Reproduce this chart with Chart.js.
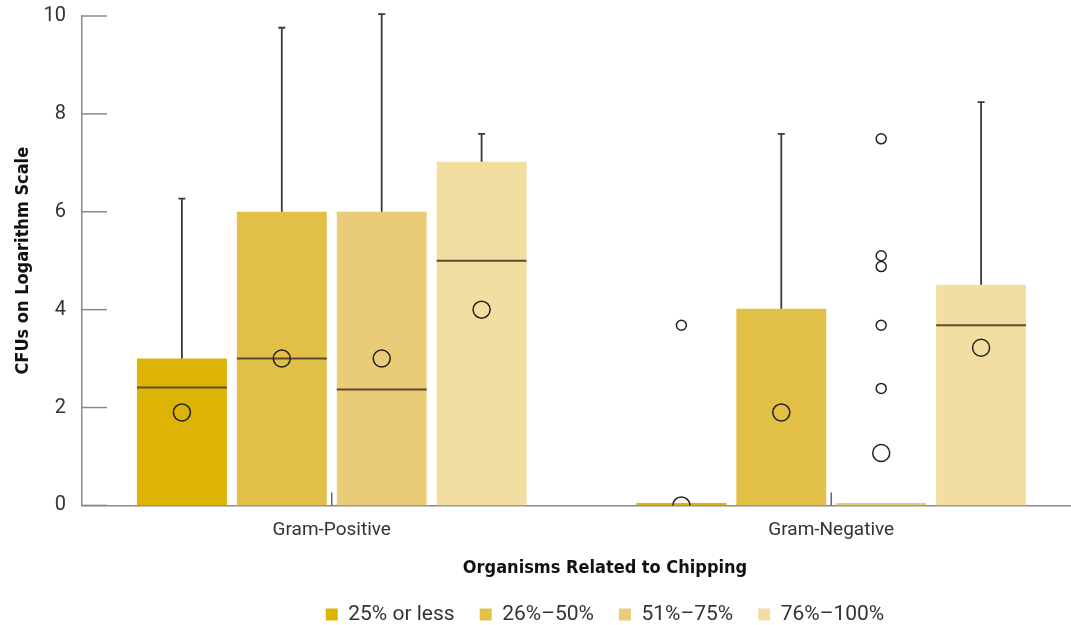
<!DOCTYPE html>
<html>
<head>
<meta charset="utf-8">
<script src="https://cdn.jsdelivr.net/npm/chart.js@4.4.1/dist/chart.umd.min.js"></script>
<style>
  html, body { margin: 0; padding: 0; background: #fff; overflow: hidden; }
  #wrap { width: 1210px; height: 625px; }
</style>
</head>
<body>
<div id="wrap"><canvas id="boxChart" width="1210" height="625"></canvas></div>
<script>
// categories and series
var categories = ['Gram-Positive', 'Gram-Negative'];
var seriesLabels = ['25% or less', '26%–50%', '51%–75%', '76%–100%'];
var seriesColors = ['#DDB306', '#E2BF46', '#EACB77', '#F2DEA0'];
var yTicks = [0, 2, 4, 6, 8, 10];

// box values per series, one entry per category
var lowerQuartile = [[0, 0], [0, 0], [0, 0], [0, 0]];
var upperQuartile = [[3.0, 0.05], [6.0, 4.02], [6.0, 0.05], [7.02, 4.51]];
var medians = [[2.41, null], [3.0, null], [2.37, null], [5.0, 3.68]];
var means = [[1.9, 0], [3.0, 1.9], [3.0, 1.07], [4.0, 3.22]];
var maxima = [[6.27, null], [9.76, 7.59], [10.04, null], [7.59, 8.24]];
var outliers = [
  [[], [3.68]],
  [[], []],
  [[], [7.49, 5.1, 4.88, 3.68, 2.39]],
  [[], []]
];

var textColor = '#333';
var axisColor = '#8a8a8a';
var boldFont = "'Liberation Sans Narrow', 'DejaVu Sans Condensed', 'Roboto', sans-serif";

// medians, whiskers, means, outliers and inner ticks
var boxExtras = {
  id: 'boxExtras',
  afterDatasetsDraw: function(chart) {
    var ctx = chart.ctx;
    var y = chart.scales.y;
    var x = chart.scales.x;
    var area = chart.chartArea;
    ctx.save();

    // y ticks drawn inside the plot
    ctx.strokeStyle = axisColor;
    ctx.lineWidth = 1.5;
    yTicks.forEach(function(t) {
      var py = y.getPixelForValue(t);
      ctx.beginPath();
      ctx.moveTo(area.left, py);
      ctx.lineTo(area.left + 25, py);
      ctx.stroke();
    });
    // category ticks
    ctx.strokeStyle = '#666';
    categories.forEach(function(c, j) {
      var px = x.getPixelForValue(j);
      ctx.beginPath();
      ctx.moveTo(px, area.bottom);
      ctx.lineTo(px, area.bottom - 13);
      ctx.stroke();
    });

    seriesLabels.forEach(function(s, i) {
      var meta = chart.getDatasetMeta(i);
      meta.data.forEach(function(bar, j) {
        var half = bar.width / 2;
        // whisker
        if (maxima[i][j] !== null) {
          var top = y.getPixelForValue(maxima[i][j]);
          var from = y.getPixelForValue(upperQuartile[i][j]);
          ctx.strokeStyle = '#3a3a3a';
          ctx.lineWidth = 1.8;
          ctx.beginPath();
          ctx.moveTo(bar.x, from);
          ctx.lineTo(bar.x, top);
          ctx.moveTo(bar.x - 3.5, top);
          ctx.lineTo(bar.x + 3.5, top);
          ctx.stroke();
        }
        // median
        if (medians[i][j] !== null) {
          var my = y.getPixelForValue(medians[i][j]);
          ctx.strokeStyle = '#5a4c30';
          ctx.lineWidth = 2;
          ctx.beginPath();
          ctx.moveTo(bar.x - half, my);
          ctx.lineTo(bar.x + half, my);
          ctx.stroke();
        }
        ctx.save();
        ctx.beginPath();
        ctx.rect(area.left, area.top - 20, area.right - area.left, area.bottom - area.top + 20);
        ctx.clip();
        ctx.strokeStyle = '#222';
        ctx.lineWidth = 1.5;
        // mean
        ctx.beginPath();
        ctx.arc(bar.x, y.getPixelForValue(means[i][j]), 8.5, 0, Math.PI * 2);
        ctx.stroke();
        // outliers
        outliers[i][j].forEach(function(v) {
          ctx.beginPath();
          ctx.arc(bar.x, y.getPixelForValue(v), 5, 0, Math.PI * 2);
          ctx.stroke();
        });
        ctx.restore();
      });
    });
    ctx.restore();
  }
};

var datasets = seriesLabels.map(function(label, i) {
  return {
    label: label,
    data: categories.map(function(c, j) { return [lowerQuartile[i][j], upperQuartile[i][j]]; }),
    backgroundColor: seriesColors[i],
    borderWidth: 0,
    categoryPercentage: 0.8,
    barPercentage: 0.9
  };
});

var ctx = document.getElementById('boxChart').getContext('2d');
new Chart(ctx, {
  type: 'bar',
  data: { labels: categories, datasets: datasets },
  plugins: [boxExtras],
  options: {
    responsive: false,
    animation: false,
    layout: { padding: { top: 0, bottom: 0 } },
    scales: {
      x: {
        grid: { display: false, drawTicks: false },
        border: { display: true, color: axisColor, width: 1.5 },
        ticks: { color: textColor, font: { family: 'Roboto', size: 19 }, padding: 13 },
        afterFit: function(scale) { scale.height = 36; }
      },
      y: {
        min: 0,
        max: 10,
        afterBuildTicks: function(scale) {
          scale.ticks = yTicks.map(function(v) { return { value: v }; });
        },
        grid: { display: false, drawTicks: false },
        border: { display: true, color: axisColor, width: 1.5 },
        ticks: { color: textColor, font: { family: 'Roboto', size: 20 }, padding: 16 },
        title: {
          display: true,
          text: 'CFUs on Logarithm Scale',
          color: '#111',
          font: { family: boldFont, size: 18, weight: 'bold' },
          padding: { top: 13, bottom: 0 }
        },
        afterFit: function(scale) {
          scale.width = 82;
          scale.paddingTop = 16;
        }
      },
      // empty axis on the right, keeps the plot where the reference has it
      yRight: {
        position: 'right',
        grid: { display: false },
        border: { display: false },
        ticks: { display: false },
        afterFit: function(scale) { scale.width = 129; }
      }
    },
    plugins: {
      tooltip: { enabled: false },
      title: {
        display: true,
        position: 'bottom',
        weight: 500,
        text: 'Organisms Related to Chipping',
        color: '#111',
        font: { family: boldFont, size: 18, weight: 'bold' },
        padding: { top: 16, bottom: 0 }
      },
      legend: {
        position: 'bottom',
        maxHeight: 46,
        labels: {
          color: textColor,
          font: { family: 'Roboto', size: 21 },
          boxWidth: 12,
          boxHeight: 12,
          padding: 25
        }
      }
    }
  }
});
</script>
</body>
</html>
